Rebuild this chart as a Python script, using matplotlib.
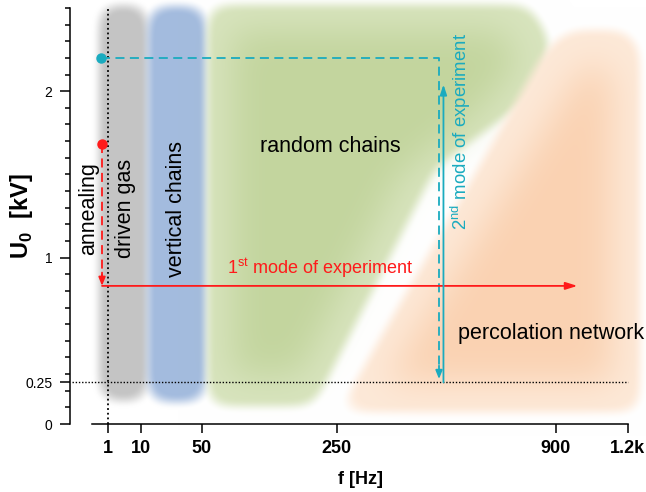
import numpy as np
import matplotlib
matplotlib.use("Agg")
import matplotlib.pyplot as plt
from matplotlib.path import Path
from matplotlib.ticker import MultipleLocator

plt.rcParams['font.family'] = ['Liberation Sans', 'DejaVu Sans']
plt.rcParams['mathtext.fontset'] = 'custom'
plt.rcParams['mathtext.rm'] = 'Liberation Sans'
plt.rcParams['mathtext.bf'] = 'Liberation Sans:bold'

# axis ticks
x_ticks = [1, 10, 50, 250, 900, 1200]
x_tick_labels = ['1', '10', '50', '250', '900', '1.2k']
y_ticks = [0, 0.25, 1, 2]
y_tick_labels = ['0', '0.25', '1', '2']

# regimes, outlines as (f [Hz], U0 [kV])
gas_f = [0.2, 12.9, 12.9, 0.2]
gas_U = [2.52, 2.52, 0.14, 0.14]
vert_f = [12.9, 54.0, 54.0, 12.9]
vert_U = [2.51, 2.51, 0.13, 0.13]
rand_f = [56, 800, 880, 840, 495, 205, 56]
rand_U = [2.52, 2.52, 2.3, 2.0, 1.55, 0.11, 0.11]
rand_core_f = [81, 696, 766, 629, 396, 180, 81]
rand_core_U = [2.37, 2.37, 2.18, 1.88, 1.49, 0.29, 0.29]
perc_f = [252, 869, 955, 1188, 1256, 1256]
perc_U = [0.07, 2.27, 2.37, 2.37, 2.27, 0.07]
perc_core_f = [358, 996, 1079, 1131, 1131]
perc_core_U = [0.25, 2.12, 2.18, 2.06, 0.25]

# experiment paths
anneal_f, anneal_U = 0.38, 1.68
mode1_U, mode1_end_f = 0.83, 985
mode2_f0, mode2_U0 = 0.28, 2.2
mode2_turn_f, mode2_down_U = 503, 0.27
mode2_up_f, mode2_up_U = 516, 2.04
U_thr = 0.25
f_dc = 1

red = '#ff1a1a'
cyan = '#1aabbf'

W, H = 646, 492
fig = plt.figure(figsize=(W / 100, H / 100), dpi=100)
ax = fig.add_axes([92.5 / W, 68 / H, 535.2 / W, 416 / H])
ax.set_xscale('function', functions=(lambda x: np.sqrt(np.clip(x, 0, None)), lambda x: np.square(x)))
ax.set_xlim(0, 1200)
ax.set_ylim(0, 2.5)


def blur(a, s):
    r = int(3 * s)
    k = np.exp(-0.5 * (np.arange(-r, r + 1) / s) ** 2)
    k /= k.sum()
    p = np.pad(a, r)
    h = sum(k[i] * p[:, i:i + a.shape[1]] for i in range(2 * r + 1))
    return sum(k[i] * h[i:i + a.shape[0], :] for i in range(2 * r + 1))


xs = np.arange(W) + 0.5
ys = H - (np.arange(H) + 0.5)
X, Y = np.meshgrid(xs, ys)
grid = np.column_stack([X.ravel(), Y.ravel()])


def mask_of(f, U):
    verts = ax.transData.transform(np.column_stack([f, U]))
    return Path(verts).contains_points(grid).reshape(H, W).astype(float)


def rounded(f, U, s=12, soft=0.5):
    m = blur(mask_of(f, U), s)
    t = np.clip((m - 0.5) / soft + 0.5, 0, 1)
    return t * t * (3 - 2 * t)


layers = [
    ((196, 196, 196), rounded(gas_f, gas_U)),
    ((163, 187, 222), rounded(vert_f, vert_U)),
    ((216, 228, 190), rounded(rand_f, rand_U)),
    ((195, 213, 158), blur(mask_of(rand_core_f, rand_core_U), 18)),
    ((253, 233, 216), rounded(perc_f, perc_U)),
    ((250, 210, 178), blur(mask_of(perc_core_f, perc_core_U), 18)),
]
img = np.ones((H, W, 3))
for c, a in layers:
    img = img * (1 - a[..., None]) + np.array(c) / 255 * a[..., None]

bg = fig.add_axes([0, 0, 1, 1], zorder=-1)
bg.imshow(img, extent=(0, W, 0, H), aspect='auto', interpolation='nearest')
bg.set_axis_off()
ax.patch.set_visible(False)

# guide lines
ax.axvline(f_dc, ymin=0, ymax=1, color='k', lw=1.3, ls=(0, (1, 1.6)))
ax.axhline(U_thr, xmin=-0.038, xmax=1.0, color='k', lw=1.0, ls=(0, (1, 1.3)), clip_on=False)

# 1st mode: annealing then frequency sweep
ax.plot([anneal_f, anneal_f], [anneal_U, mode1_U + 0.06], ls='--', dashes=(5, 3), color=red, lw=1.3, clip_on=False)
ax.annotate('', xy=(anneal_f, mode1_U), xytext=(anneal_f, mode1_U + 0.08),
            arrowprops=dict(arrowstyle='-|>,head_length=0.5,head_width=0.2', color=red, lw=1.3, shrinkA=0, shrinkB=0))
ax.plot(anneal_f, anneal_U, 'o', color=red, ms=6.5, clip_on=False)
ax.annotate('', xy=(mode1_end_f, mode1_U), xytext=(anneal_f, mode1_U),
            arrowprops=dict(arrowstyle='-|>,head_length=0.7,head_width=0.22', color=red, lw=1.3, shrinkA=0, shrinkB=0))

# 2nd mode
ax.plot([mode2_f0, mode2_turn_f, mode2_turn_f], [mode2_U0, mode2_U0, mode2_down_U + 0.06],
        ls='--', dashes=(5, 3), color=cyan, lw=1.3, clip_on=False)
ax.annotate('', xy=(mode2_turn_f, mode2_down_U), xytext=(mode2_turn_f, mode2_down_U + 0.08),
            arrowprops=dict(arrowstyle='-|>,head_length=0.5,head_width=0.2', color=cyan, lw=1.3, shrinkA=0, shrinkB=0))
ax.plot(mode2_f0, mode2_U0, 'o', color=cyan, ms=6.5, clip_on=False)
ax.annotate('', xy=(mode2_up_f, mode2_up_U), xytext=(mode2_up_f, U_thr),
            arrowprops=dict(arrowstyle='-|>,head_length=0.6,head_width=0.2', color=cyan, lw=1.3, shrinkA=0, shrinkB=0))

# labels
ax.text(-0.007, 0.519, 'annealing', transform=ax.transAxes, rotation=90, ha='center', va='center', fontsize=15.5)
ax.text(4.7, 1.293, 'driven gas', rotation=90, ha='center', va='center', fontsize=15.5)
ax.text(29.9, 1.293, 'vertical chains', rotation=90, ha='center', va='center', fontsize=15.5)
ax.text(236, 1.665, 'random chains', ha='center', va='center', fontsize=15.5)
ax.text(560, 0.545, 'percolation network', ha='left', va='center', fontsize=15.5, clip_on=False)
ax.text(218, 0.934, r'1$^{\mathrm{st}}$ mode of experiment', ha='center', va='center', fontsize=13, color=red)
ax.text(569, 1.76, r'2$^{\mathrm{nd}}$ mode of experiment', rotation=90, ha='center', va='center', fontsize=13.4, color=cyan)

# axes styling
ax.set_xticks(x_ticks, x_tick_labels, fontweight='bold', fontsize=13)
ax.set_yticks(y_ticks, y_tick_labels, fontweight='bold', fontsize=13)
ax.yaxis.set_minor_locator(MultipleLocator(0.1))
ax.yaxis.get_major_ticks()[1].tick1line.set_visible(False)
ax.tick_params(axis='x', which='major', direction='out', length=6.5, width=1.1, pad=5)
ax.tick_params(axis='y', which='major', direction='out', length=7.2, width=1.1, pad=5.5)
ax.tick_params(axis='y', which='minor', direction='out', length=3.6, width=1.1)
for side in ['top', 'right']:
    ax.spines[side].set_visible(False)
for side in ['left', 'bottom']:
    ax.spines[side].set_linewidth(1.1)
ax.spines['left'].set_position(('outward', 16.2))

ax.set_ylabel(r'U$_\mathbf{0}$  [kV]', fontsize=17, fontweight='bold')
ax.yaxis.set_label_coords(-0.107, 0.5)
ax.set_xlabel('f [Hz]', fontsize=13, fontweight='bold')
ax.xaxis.set_label_coords(0.5, -0.113)

fig.savefig('out.png', dpi=100)
